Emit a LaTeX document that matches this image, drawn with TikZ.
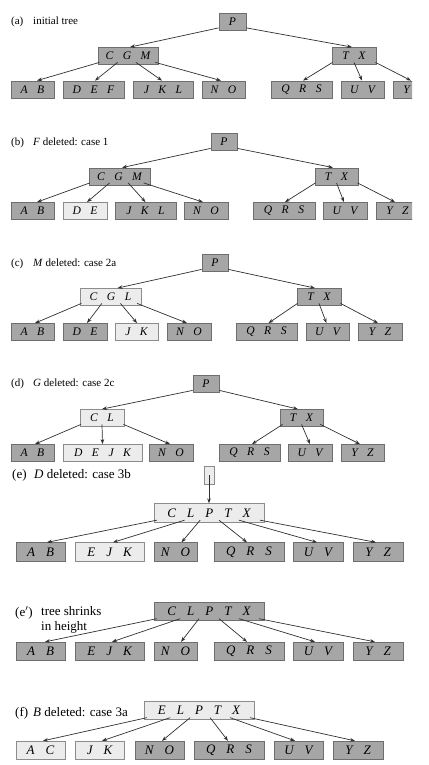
\documentclass[tikz,border=0pt]{standalone}
\usepackage{fontspec}
\setmainfont{Liberation Serif}
\usetikzlibrary{calc,arrows.meta}
\definecolor{fdark}{HTML}{A6A6A6}
\definecolor{bdark}{HTML}{6E6E6E}
\definecolor{flight}{HTML}{ECECEC}
\definecolor{blight}{HTML}{8C8C8C}
\definecolor{arrc}{HTML}{303030}
\newcommand\kg{\hspace{9.5pt}}
\newcommand\kG{\hspace{11pt}}
\newcommand\tedge[4]{\draw[arr] ($(#1.south west)!#2!(#1.south east)+(0,-2.5)$) -- ([xshift=#4pt]#3.north);}
\tikzset{
  dk/.style={draw=bdark, fill=fdark, line width=0.8pt, inner sep=0pt, minimum height=17pt,
             font=\fontsize{11.6}{12}\selectfont\itshape},
  lt/.style={dk, draw=blight, fill=flight},
  bigk/.style={minimum height=18.5pt, font=\fontsize{13}{13}\selectfont\itshape},
  lab/.style={anchor=west, inner sep=0pt, font=\fontsize{11}{13}\selectfont},
  labb/.style={lab, font=\fontsize{13}{15}\selectfont},
  arr/.style={-{Stealth[length=5pt,width=3.6pt]}, line width=0.7pt, draw=arrc}
}
\begin{document}
\begin{tikzpicture}[x=1pt,y=-1pt]
\useasboundingbox (0,0) rectangle (428,765);
% ---------------- (a)
\node[lab] (la) at (11,22) {\makebox[22pt][l]{(a)}initial tree};
\node[dk, minimum width=27pt] (aP) at (232.5,21.5) {P};
\node[dk, minimum width=60pt] (aCGM) at (128,56) {C\kg G\kg M};
\node[dk, minimum width=44pt] (aTX) at (354,56) {T\kg X};
\node[dk, minimum width=43pt] (aAB) at (32.5,89.5) {A\kg B};
\node[dk, minimum width=61pt] (aDEF) at (93.5,89.5) {D\kg E\kg F};
\node[dk, minimum width=60pt] (aJKL) at (163,89.5) {J\kg K\kg L};
\node[dk, minimum width=43pt] (aNO) at (223.5,89.5) {N\kg O};
\node[dk, minimum width=61pt] (aQRS) at (301.5,89.5) {Q\kg R\kg S};
\node[dk, minimum width=43pt] (aUV) at (362.5,89.5) {U\kg V};
\begin{scope}
\clip (0,0) rectangle (412,230);
\node[dk, minimum width=43pt] (aYZ) at (414.5,89.5) {Y\kg Z};
\end{scope}
\tedge{aP}{0}{aCGM}{2}
\tedge{aP}{1}{aTX}{-2}
\tedge{aCGM}{0.03}{aAB}{4.5}
\tedge{aCGM}{0.33}{aDEF}{1.5}
\tedge{aCGM}{0.63}{aJKL}{-1}
\tedge{aCGM}{0.95}{aNO}{-2.5}
\tedge{aTX}{0.02}{aQRS}{1.5}
\tedge{aTX}{0.5}{aUV}{-0.5}
\tedge{aTX}{0.98}{aYZ}{-3.5}
% ---------------- (b)
\node[lab] (lb) at (11,143) {\makebox[22pt][l]{(b)}\textit{F} deleted: case 1};
\node[dk, minimum width=26pt] (bP) at (224,142) {P};
\node[dk, minimum width=61pt] (bCGM) at (119.5,176.5) {C\kg G\kg M};
\node[dk, minimum width=43pt] (bTX) at (336.5,176.5) {T\kg X};
\node[dk, minimum width=43pt] (bAB) at (32.5,211) {A\kg B};
\node[lt, minimum width=44pt] (bDE) at (85,211) {D\kg E};
\node[dk, minimum width=61pt] (bJKL) at (145.5,211) {J\kg K\kg L};
\node[dk, minimum width=44pt] (bNO) at (206,211) {N\kg O};
\node[dk, minimum width=62pt] (bQRS) at (284,211) {Q\kg R\kg S};
\node[dk, minimum width=44pt] (bUV) at (345,211) {U\kg V};
\begin{scope}
\clip (0,100) rectangle (412,230);
\node[dk, minimum width=43pt] (bYZ) at (397.5,211) {Y\kg Z};
\end{scope}
\tedge{bP}{0}{bCGM}{2.5}
\tedge{bP}{1}{bTX}{-3.5}
\tedge{bCGM}{0.02}{bAB}{4.5}
\tedge{bCGM}{0.34}{bDE}{2}
\tedge{bCGM}{0.64}{bJKL}{0}
\tedge{bCGM}{0.89}{bNO}{-3}
\tedge{bTX}{0.02}{bQRS}{1}
\tedge{bTX}{0.5}{bUV}{-1}
\tedge{bTX}{0.98}{bYZ}{-2.5}
% ---------------- (c)
\node[lab] (lc) at (11,264) {\makebox[22pt][l]{(c)}\textit{M} deleted: case 2a};
\node[dk, minimum width=26pt] (cP) at (215,263) {P};
\node[lt, minimum width=61pt] (cCGL) at (110.5,297) {C\kg G\kg L};
\node[dk, minimum width=44pt] (cTX) at (319,297) {T\kg X};
\node[dk, minimum width=43pt] (cAB) at (32.5,332) {A\kg B};
\node[dk, minimum width=44pt] (cDE) at (85,332) {D\kg E};
\node[lt, minimum width=43pt] (cJK) at (136.5,332) {J\kg K};
\node[dk, minimum width=44pt] (cNO) at (189,332) {N\kg O};
\node[dk, minimum width=61pt] (cQRS) at (266.5,332) {Q\kg R\kg S};
\node[dk, minimum width=43pt] (cUV) at (327.5,332) {U\kg V};
\node[dk, minimum width=44pt] (cYZ) at (380,332) {Y\kg Z};
\tedge{cP}{0}{cCGL}{7}
\tedge{cP}{1}{cTX}{-4}
\tedge{cCGL}{0.03}{cAB}{2.5}
\tedge{cCGL}{0.36}{cDE}{2}
\tedge{cCGL}{0.66}{cJK}{0.5}
\tedge{cCGL}{0.93}{cNO}{-2}
\tedge{cTX}{0.02}{cQRS}{2}
\tedge{cTX}{0.5}{cUV}{-1}
\tedge{cTX}{0.98}{cYZ}{-2}
% ---------------- (d)
\node[lab] (ld) at (11,384) {\makebox[22pt][l]{(d)}\textit{G} deleted: case 2c};
\node[dk, minimum width=26pt] (dP) at (206,384) {P};
\node[lt, minimum width=44pt] (dCL) at (102,418) {C\kg L};
\node[dk, minimum width=43pt] (dTX) at (301.5,418) {T\kg X};
\node[dk, minimum width=43pt] (dAB) at (32.5,453) {A\kg B};
\node[lt, minimum width=79pt] (dDEJK) at (102.5,453) {D\kg E\kg J\kg K};
\node[dk, minimum width=44pt] (dNO) at (171,453) {N\kg O};
\node[dk, minimum width=61pt] (dQRS) at (249.5,453) {Q\kg R\kg S};
\node[dk, minimum width=44pt] (dUV) at (310,453) {U\kg V};
\node[dk, minimum width=43pt] (dYZ) at (362.5,453) {Y\kg Z};
\tedge{dP}{0}{dCL}{0}
\tedge{dP}{1}{dTX}{-3.5}
\tedge{dCL}{0.03}{dAB}{2.5}
\tedge{dCL}{0.5}{dDEJK}{0}
\tedge{dCL}{0.98}{dNO}{-1}
\tedge{dTX}{0.07}{dQRS}{2.5}
\tedge{dTX}{0.5}{dUV}{0}
\tedge{dTX}{0.93}{dYZ}{-2.5}
% ---------------- (e)
\node[labb] (le) at (12,475) {\makebox[22pt][l]{(e)}\textit{D} deleted: case 3b};
\node[lt, minimum width=10pt, minimum height=18pt] (eS) at (209,475) {};
\node[lt, bigk, minimum width=110pt] (eBig) at (209,513) {C\kG L\kG P\kG T\kG X};
\node[dk, bigk, minimum width=49pt] (eAB) at (40.5,552) {A\kG B};
\node[lt, bigk, minimum width=69pt] (eEJK) at (109.5,552) {E\kG J\kG K};
\node[dk, bigk, minimum width=43pt] (eNO) at (175.5,552) {N\kG O};
\node[dk, bigk, minimum width=70pt] (eQRS) at (249,552) {Q\kG R\kG S};
\node[dk, bigk, minimum width=50pt] (eUV) at (318,552) {U\kG V};
\node[dk, bigk, minimum width=50pt] (eYZ) at (378,552) {Y\kG Z};
\draw[arr] (eS.center) -- (eBig.north);
\tedge{eBig}{0.03}{eAB}{6.5}
\tedge{eBig}{0.28}{eEJK}{3.5}
\tedge{eBig}{0.42}{eNO}{6}
\tedge{eBig}{0.59}{eQRS}{-2}
\tedge{eBig}{0.77}{eUV}{-1}
\tedge{eBig}{0.96}{eYZ}{-2}
% ---------------- (e')
\node[labb] (lep1) at (15,613) {(e$'$)};
\node[labb, align=left] (lep2) at (41,620) {tree shrinks\\in height};
\node[dk, bigk, minimum width=110pt] (pBig) at (209,611.5) {C\kG L\kG P\kG T\kG X};
\node[dk, bigk, minimum width=49pt] (pAB) at (40.5,651.5) {A\kG B};
\node[dk, bigk, minimum width=69pt] (pEJK) at (109.5,651.5) {E\kG J\kG K};
\node[dk, bigk, minimum width=43pt] (pNO) at (175.5,651.5) {N\kG O};
\node[dk, bigk, minimum width=70pt] (pQRS) at (249,651.5) {Q\kG R\kG S};
\node[dk, bigk, minimum width=50pt] (pUV) at (318,651.5) {U\kG V};
\node[dk, bigk, minimum width=50pt] (pYZ) at (378,651.5) {Y\kG Z};
\tedge{pBig}{0.03}{pAB}{4.5}
\tedge{pBig}{0.24}{pEJK}{2.5}
\tedge{pBig}{0.41}{pNO}{5.5}
\tedge{pBig}{0.59}{pQRS}{-2}
\tedge{pBig}{0.77}{pUV}{-3}
\tedge{pBig}{0.95}{pYZ}{-3}
% ---------------- (f)
\node[labb] (lf) at (15,713) {\makebox[18pt][l]{(f)}\textit{B} deleted: case 3a};
\node[lt, bigk, minimum width=110pt] (fBig) at (199,710.5) {E\kG L\kG P\kG T\kG X};
\node[lt, bigk, minimum width=49pt] (fAC) at (40.5,750.5) {A\kG C};
\node[lt, bigk, minimum width=49pt] (fJK) at (99.5,750.5) {J\kG K};
\node[dk, bigk, minimum width=49pt] (fNO) at (159.5,750.5) {N\kG O};
\node[dk, bigk, minimum width=70pt] (fQRS) at (229,750.5) {Q\kG R\kG S};
\node[dk, bigk, minimum width=49pt] (fUV) at (298.5,750.5) {U\kG V};
\node[dk, bigk, minimum width=50pt] (fYZ) at (358,750.5) {Y\kG Z};
\tedge{fBig}{0.03}{fAC}{2.5}
\tedge{fBig}{0.24}{fJK}{2.5}
\tedge{fBig}{0.42}{fNO}{2.5}
\tedge{fBig}{0.6}{fQRS}{-1}
\tedge{fBig}{0.78}{fUV}{-3.5}
\tedge{fBig}{0.96}{fYZ}{-3}
\end{tikzpicture}
\end{document}
